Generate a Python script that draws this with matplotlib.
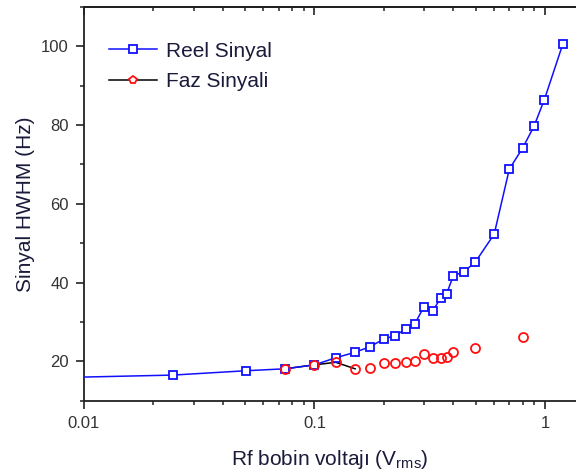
import numpy as np
import matplotlib
matplotlib.use("Agg")
import matplotlib.pyplot as plt
from matplotlib.ticker import LogLocator, FixedLocator, FixedFormatter, MultipleLocator, NullFormatter

plt.rcParams["font.family"] = ["Liberation Sans", "DejaVu Sans"]

# ── Data ──────────────────────────────────────────────────────────────────────
reel_v = [0.007, 0.0243, 0.0503, 0.0745, 0.100, 0.1236, 0.150, 0.174, 0.2005,
          0.2234, 0.249, 0.273, 0.2986, 0.326, 0.3527, 0.374, 0.400, 0.445,
          0.497, 0.602, 0.700, 0.800, 0.896, 0.994, 1.195]
reel_hwhm = [15.8, 16.5, 17.6, 18.1, 19.1, 20.9, 22.3, 23.7, 25.7,
             26.5, 28.2, 29.6, 33.9, 32.7, 36.2, 37.1, 41.7, 42.8,
             45.1, 52.3, 68.8, 74.2, 79.7, 86.5, 100.6]

faz_v = [0.0745, 0.100, 0.1236, 0.150, 0.174, 0.2005, 0.2234, 0.249, 0.273,
         0.2986, 0.326, 0.3527, 0.374, 0.400, 0.497, 0.800]
faz_hwhm = [18.1, 19.1, 19.75, 18.1, 18.3, 19.5, 19.5, 19.7, 20.2,
            21.9, 20.9, 20.9, 21.2, 22.3, 23.5, 26.1]
faz_line_n = 4   # only the first few phase points are joined by a line

x_ticks = [0.01, 0.1, 1]
x_ticklabels = ["0.01", "0.1", "1"]
y_ticks = [20, 40, 60, 80, 100]

# ── Figure ────────────────────────────────────────────────────────────────────
fig = plt.figure(figsize=(5.76, 4.73), dpi=100)
ax = fig.add_axes([0.1458, 0.1529, 0.8542, 0.8323])

ax.plot(reel_v, reel_hwhm, color="#1010ff", lw=1.1, marker="s", ms=5.5,
        mfc="white", mec="#1010ff", mew=1.3, label="Reel Sinyal", zorder=3)
ax.plot(faz_v[:faz_line_n], faz_hwhm[:faz_line_n], color="black", lw=1.1,
        zorder=2)
ax.plot(faz_v, faz_hwhm, ls="none", marker="o", ms=6.5, mfc="none",
        mec="#ff1010", mew=1.3, zorder=4)

# legend proxy for the phase series (black line + red marker)
ax.plot([], [], color="black", lw=1.1, marker="p", ms=5.5, mfc="white",
        mec="#ff1010", mew=1.3, label="Faz Sinyali")

ax.set_xscale("log")
ax.set_xlim(0.01, 1.363)
ax.set_ylim(10, 110)

ax.xaxis.set_major_locator(FixedLocator(x_ticks))
ax.xaxis.set_major_formatter(FixedFormatter(x_ticklabels))
ax.xaxis.set_minor_locator(LogLocator(base=10, subs=np.arange(2, 10)))
ax.xaxis.set_minor_formatter(NullFormatter())
ax.yaxis.set_major_locator(FixedLocator(y_ticks))
ax.yaxis.set_minor_locator(MultipleLocator(10))

ax.spines["right"].set_visible(False)
for s in ("left", "bottom", "top"):
    ax.spines[s].set_linewidth(1.3)
    ax.spines[s].set_color("#222222")

ax.tick_params(which="major", direction="out", length=6, width=1.2,
               labelsize=12, labelcolor="#333333", color="#222222", pad=5)
ax.tick_params(which="minor", direction="out", length=3, width=1.1,
               color="#222222")

top = ax.secondary_xaxis("top")
top.xaxis.set_major_locator(FixedLocator(x_ticks))
top.xaxis.set_minor_locator(LogLocator(base=10, subs=np.arange(2, 10)))
top.xaxis.set_minor_formatter(NullFormatter())
top.tick_params(which="major", direction="in", length=6, width=1.2,
                labeltop=False, color="#222222")
top.tick_params(which="minor", direction="in", length=3, width=1.1,
                color="#222222")
top.spines["top"].set_linewidth(1.3)

ax.set_xlabel("Rf bobin voltajı (V$_{\\mathregular{rms}}$)", fontsize=15,
              color="#1a1a3a", labelpad=12)
ax.set_ylabel("Sinyal HWHM (Hz)", fontsize=15, color="#1a1a3a", labelpad=4)

ax.legend(loc="upper left", bbox_to_anchor=(0.051, 0.912), frameon=False,
          fontsize=15, handlelength=2.3, handletextpad=0.45,
          labelspacing=0.55, borderpad=0, borderaxespad=0,
          labelcolor="#1a1a3a")

fig.savefig("out.png", dpi=100)
